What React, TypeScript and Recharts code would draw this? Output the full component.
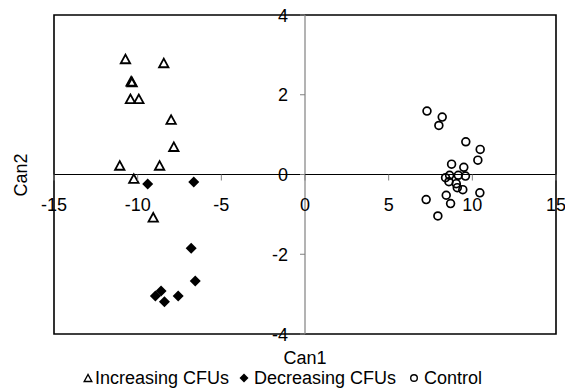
import React from "react";
import {
  ReferenceArea,
  ReferenceLine,
  Scatter,
  ScatterChart,
  XAxis,
  YAxis
} from "recharts";

const increasingX = [-10.73, -8.44, -10.39, -10.33, -10.43, -9.93, -8.0, -7.84, -11.07, -8.69, -10.23, -9.07];
const increasingY = [2.88, 2.78, 2.32, 2.3, 1.88, 1.88, 1.36, 0.68, 0.21, 0.21, -0.12, -1.09];

const decreasingX = [-9.4, -6.65, -6.8, -6.56, -7.58, -8.94, -8.6, -8.4];
const decreasingY = [-0.24, -0.19, -1.85, -2.67, -3.05, -3.05, -2.92, -3.19];

const controlX = [7.29, 8.2, 8.0, 9.61, 10.47, 10.33, 8.76, 9.49, 8.64, 8.4, 9.16, 9.59, 8.6, 9.04, 9.1, 9.43, 8.44, 8.7, 10.45, 7.24, 7.94];
const controlY = [1.59, 1.44, 1.23, 0.82, 0.63, 0.36, 0.26, 0.18, -0.02, -0.08, -0.02, -0.04, -0.18, -0.23, -0.33, -0.38, -0.52, -0.73, -0.46, -0.63, -1.04];

const xTicks = [-15, -10, -5, 0, 5, 10, 15];
const yTicks = [-4, -2, 0, 2, 4];

const W = 565;
const H = 392;
// plot box: left 54, right 556, top 15, bottom 334
const axisLeft = 54;
const axisBottom = 58;
const margin = { top: 15, right: 9, bottom: 0, left: 0 };
const plotW = W - axisLeft - margin.right;
const plotH = H - margin.top - axisBottom;
const zeroX = axisLeft + plotW / 2;
const zeroY = margin.top + plotH / 2;
const font = "'Liberation Sans', Arial, sans-serif";
const fs = 18;

const toPoints = (xs: number[], ys: number[]) => xs.map((x, i) => ({ x, y: ys[i] }));

const Triangle = ({ cx, cy }: any) => (
  <polygon
    points={`${cx},${cy - 5} ${cx - 4.7},${cy + 3.6} ${cx + 4.7},${cy + 3.6}`}
    fill="none"
    stroke="#000"
    strokeWidth={1.8}
  />
);

const Diamond = ({ cx, cy }: any) => (
  <polygon
    points={`${cx},${cy - 5.5} ${cx + 5.5},${cy} ${cx},${cy + 5.5} ${cx - 5.5},${cy}`}
    fill="#000"
  />
);

const Ring = ({ cx, cy }: any) => (
  <circle cx={cx} cy={cy} r={3.9} fill="none" stroke="#000" strokeWidth={1.7} />
);

const XTick = ({ x, payload }: any) => (
  <g>
    <line x1={x} x2={x} y1={zeroY} y2={zeroY + 6} stroke="#808080" />
    <text x={x} y={zeroY + 36} textAnchor="middle" fontSize={fs} fontFamily={font} fill="#000">
      {payload.value}
    </text>
  </g>
);

const YTick = ({ y, payload }: any) => (
  <g>
    <line x1={zeroX - 5} x2={zeroX} y1={y} y2={y} stroke="#808080" />
    <text x={zeroX - 17} y={y + 6.5} textAnchor="end" fontSize={fs} fontFamily={font} fill="#000">
      {payload.value}
    </text>
  </g>
);

const legendItems = [
  { name: "Increasing CFUs", icon: "tri", gap: 0 },
  { name: "Decreasing CFUs", icon: "dia", gap: 10 },
  { name: "Control", icon: "circ", gap: 13 }
];

const LegendIcon = ({ kind }: { kind: string }) => (
  <svg width={10} height={10} style={{ marginRight: kind === "tri" ? 2 : 5 }}>
    {kind === "tri" && <polygon points="5,1.5 1.2,8.5 8.8,8.5" fill="none" stroke="#000" strokeWidth={1.4} />}
    {kind === "dia" && <polygon points="5,0.5 9.5,5 5,9.5 0.5,5" fill="#000" />}
    {kind === "circ" && <circle cx={5} cy={5} r={3.3} fill="none" stroke="#000" strokeWidth={1.4} />}
  </svg>
);

export default function App() {
  return (
    <div style={{ position: "absolute", left: 0, top: 0, width: W, height: H, background: "#fff", fontFamily: font, overflow: "hidden" }}>
      <ScatterChart width={W} height={H} margin={margin}>
        <XAxis
          type="number"
          dataKey="x"
          domain={[-15, 15]}
          ticks={xTicks}
          height={axisBottom}
          axisLine={false}
          tickLine={false}
          tick={<XTick />}
          interval={0}
        />
        <YAxis
          type="number"
          dataKey="y"
          domain={[-4, 4]}
          ticks={yTicks}
          width={axisLeft}
          axisLine={false}
          tickLine={false}
          tick={<YTick />}
          interval={0}
        />
        <ReferenceLine x={0} stroke="#808080" strokeWidth={1.2} />
        <ReferenceLine y={0} stroke="#000" strokeWidth={1.2} />
        <ReferenceArea x1={-15} x2={15} y1={-4} y2={4} fill="none" stroke="#000" strokeWidth={1.6} fillOpacity={0} />
        <Scatter data={toPoints(increasingX, increasingY)} shape={Triangle} isAnimationActive={false} />
        <Scatter data={toPoints(decreasingX, decreasingY)} shape={Diamond} isAnimationActive={false} />
        <Scatter data={toPoints(controlX, controlY)} shape={Ring} isAnimationActive={false} />
      </ScatterChart>
      <div style={{ position: "absolute", top: 348, left: zeroX - 50, width: 100, textAlign: "center", fontSize: fs, lineHeight: "20px" }}>
        Can1
      </div>
      <div
        style={{
          position: "absolute",
          top: zeroY - 10,
          left: 21 - 50,
          width: 100,
          textAlign: "center",
          fontSize: fs,
          lineHeight: "20px",
          transform: "rotate(-90deg)"
        }}
      >
        Can2
      </div>
      <div
        style={{
          position: "absolute",
          top: 368,
          left: 0,
          width: W,
          display: "flex",
          justifyContent: "center",
          alignItems: "center",
          fontSize: fs,
          lineHeight: "20px",
          color: "#000"
        }}
      >
        {legendItems.map((item) => (
          <span key={item.name} style={{ display: "flex", alignItems: "center", marginLeft: item.gap }}>
            <LegendIcon kind={item.icon} />
            {item.name}
          </span>
        ))}
      </div>
    </div>
  );
}
